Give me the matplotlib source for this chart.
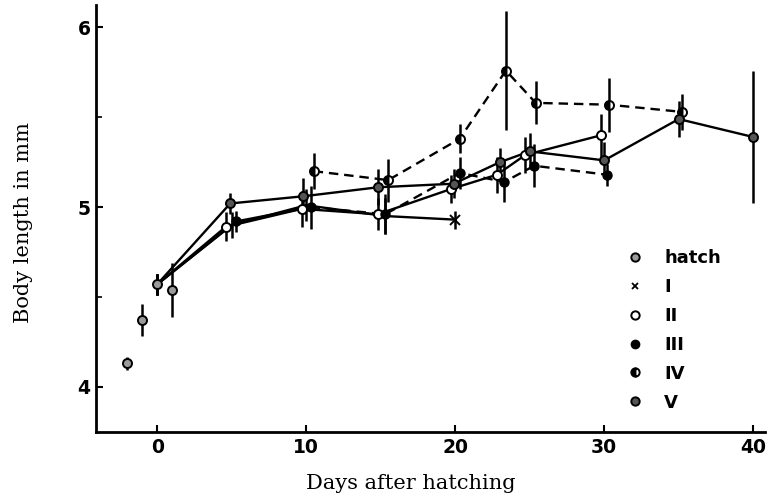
import numpy as np
import matplotlib
matplotlib.use("Agg")
import matplotlib.pyplot as plt
from matplotlib.lines import Line2D

# hatching measurements (no line)
hatch_days = [-2, -1, 0, 1]
hatch_len = [4.13, 4.37, 4.57, 4.54]
hatch_err = [0.035, 0.09, 0.06, 0.15]

# group I (ends with a cross)
i_days = [0, 5, 10, 15.3, 20]
i_len = [4.57, 4.90, 5.01, 4.95, 4.93]
i_err = [0.06, 0.07, 0.09, 0.10, 0.05]

# group II (open circles)
ii_days = [0, 4.6, 9.7, 14.8, 19.7, 22.8, 24.7, 29.8]
ii_len = [4.57, 4.89, 4.99, 4.96, 5.10, 5.18, 5.29, 5.40]
ii_err = [0.06, 0.08, 0.10, 0.09, 0.08, 0.10, 0.10, 0.12]

# group III (filled circles)
iii_days = [0, 5.3, 10.3, 15.3, 20.3, 23.3, 25.3, 30.2]
iii_len = [4.57, 4.92, 5.00, 4.96, 5.19, 5.14, 5.23, 5.18]
iii_err = [0.06, 0.06, 0.12, 0.11, 0.09, 0.11, 0.12, 0.06]

# group IV (upper dashed curve)
iv_days = [10.5, 15.5, 20.3, 23.4, 25.4, 30.3, 35.2]
iv_len = [5.20, 5.15, 5.38, 5.76, 5.58, 5.57, 5.53]
iv_err = [0.10, 0.12, 0.08, 0.33, 0.12, 0.15, 0.10]

# group V (longest solid curve)
v_days = [0, 4.9, 9.8, 14.8, 19.9, 23.0, 25.0, 30.0, 35.0, 40.0]
v_len = [4.57, 5.02, 5.06, 5.11, 5.13, 5.25, 5.31, 5.26, 5.49, 5.39]
v_err = [0.06, 0.06, 0.10, 0.10, 0.08, 0.08, 0.10, 0.10, 0.10, 0.37]

fig = plt.figure(figsize=(7.69, 4.99), dpi=100)
ax = fig.add_axes([0.125, 0.134, 0.870, 0.856])

lw = 1.7
ms = 6.5
err_kw = dict(ecolor="black", elinewidth=1.8, capsize=0, zorder=2)

# lines
ax.plot(i_days, i_len, "-", color="black", lw=lw, zorder=1)
ax.plot(ii_days, ii_len, "-", color="black", lw=lw, zorder=1)
ax.plot(iii_days[:3], iii_len[:3], "-", color="black", lw=lw, zorder=1)
ax.plot(iii_days[2:], iii_len[2:], "--", color="black", lw=lw, dashes=(4, 2.5), zorder=1)
ax.plot(iv_days, iv_len, "--", color="black", lw=lw, dashes=(4, 2.5), zorder=1)
ax.plot(v_days, v_len, "-", color="black", lw=lw, zorder=1)

# error bars
for d, l, e in [(hatch_days, hatch_len, hatch_err), (i_days, i_len, i_err),
                (ii_days, ii_len, ii_err), (iii_days, iii_len, iii_err),
                (iv_days, iv_len, iv_err), (v_days, v_len, v_err)]:
    ax.errorbar(d, l, yerr=e, fmt="none", **err_kw)

# markers
ax.plot(hatch_days, hatch_len, "o", ms=ms, mfc="#9a9a9a", mec="black", mew=1.4, ls="none", zorder=3)
ax.plot(i_days[-1:], i_len[-1:], "x", ms=ms, color="black", mew=1.4, ls="none", zorder=3)
ax.plot(ii_days[1:], ii_len[1:], "o", ms=ms, mfc="white", mec="black", mew=1.4, ls="none", zorder=3)
ax.plot(iii_days[1:], iii_len[1:], "o", ms=ms, mfc="black", mec="black", ls="none", zorder=3)
ax.plot(iv_days, iv_len, "o", ms=ms, mfc="black", mec="black", mew=1.4, fillstyle="left",
        markerfacecoloralt="white", ls="none", zorder=3)
ax.plot(v_days[1:], v_len[1:], "o", ms=ms, mfc="#555555", mec="black", mew=1.4, ls="none", zorder=3)

# legend
handles = [
    Line2D([], [], marker="o", ls="none", ms=6, mfc="#9a9a9a", mec="black", mew=1.4),
    Line2D([], [], marker="x", ls="none", ms=5, color="black", mew=1.3),
    Line2D([], [], marker="o", ls="none", ms=6, mfc="white", mec="black", mew=1.4),
    Line2D([], [], marker="o", ls="none", ms=6, mfc="black", mec="black"),
    Line2D([], [], marker="o", ls="none", ms=6, mfc="black", mec="black", mew=1.4,
           fillstyle="left", markerfacecoloralt="white"),
    Line2D([], [], marker="o", ls="none", ms=6, mfc="#555555", mec="black", mew=1.4),
]
labels = ["hatch", "I", "II", "III", "IV", "V"]
ax.legend(handles, labels, loc="lower right", bbox_to_anchor=(0.958, 0.01), frameon=False,
          prop=dict(family="DejaVu Sans", weight="bold", size=13),
          handlelength=1.0, handletextpad=1.1, labelspacing=0.6)

ax.set_xlim(-4.1, 40.8)
ax.set_ylim(3.747, 6.125)
ax.set_xticks([0, 10, 20, 30, 40])
ax.set_yticks([4, 5, 6])
ax.set_yticks([4.5, 5.5], minor=True)
ax.spines["top"].set_visible(False)
ax.spines["right"].set_visible(False)
ax.spines["left"].set_linewidth(2)
ax.spines["bottom"].set_linewidth(2)
ax.tick_params(direction="in", length=5, width=1.5, pad=4, labelsize=13.5)
ax.tick_params(which="minor", direction="in", length=4, width=1.2)
for t in ax.get_xticklabels() + ax.get_yticklabels():
    t.set_fontweight("bold")

ax.set_xlabel("Days after hatching", family="DejaVu Serif", fontsize=15)
ax.set_ylabel("Body length in mm", family="DejaVu Serif", fontsize=15)
ax.xaxis.set_label_coords(0.471, -0.097)
ax.yaxis.set_label_coords(-0.095, 0.49)

fig.savefig("out.png", dpi=100)
